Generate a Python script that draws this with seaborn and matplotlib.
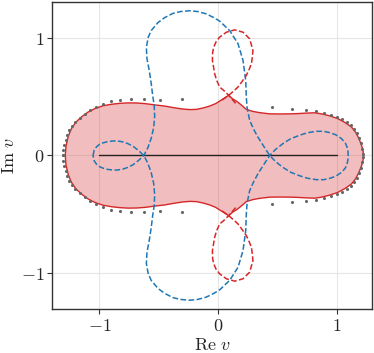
import numpy as np
import matplotlib
matplotlib.use("Agg")
import matplotlib.pyplot as plt
import seaborn as sns

# ---------------------------------------------------------------
# data (upper half only, the figure is
# symmetric under v -> conj(v))
# ---------------------------------------------------------------

# filled region: upper boundary, left to right
region_x = [-1.288, -1.282, -1.263, -1.236, -1.200, -1.152, -1.099, -1.040,
            -0.972, -0.899, -0.829, -0.759, -0.686, -0.618, -0.534, -0.449,
            -0.365, -0.298, -0.239, -0.180, -0.121, -0.070, -0.019, 0.031,
            0.090, 0.124, 0.158, 0.196, 0.239, 0.293, 0.352, 0.436, 0.520,
            0.605, 0.672, 0.739, 0.815, 0.874, 0.942, 1.010, 1.069, 1.125,
            1.161, 1.191, 1.212, 1.224, 1.227]
region_y = [0.0, 0.079, 0.163, 0.228, 0.281, 0.326, 0.366, 0.397,
            0.421, 0.434, 0.442, 0.446, 0.445, 0.440, 0.429, 0.419,
            0.404, 0.394, 0.389, 0.391, 0.404, 0.419, 0.440, 0.472,
            0.510, 0.480, 0.459, 0.429, 0.391, 0.374, 0.363, 0.353, 0.352,
            0.353, 0.355, 0.359, 0.362, 0.353, 0.336, 0.313, 0.281, 0.242,
            0.197, 0.138, 0.083, 0.036, 0.0]

# grey sample points (upper half)
dots_x = [-1.307, -1.304, -1.297, -1.286, -1.270, -1.253, -1.232, -1.202,
          -1.166, -1.124, -1.079, -1.025, -0.970, -0.899, -0.823, -0.730,
          -0.624, -0.486, -0.300,
          0.459, 0.627, 0.739, 0.826, 0.897, 0.956, 1.005, 1.049, 1.085,
          1.121, 1.148, 1.171, 1.191, 1.207, 1.218, 1.223]
dots_y = [0.0, 0.045, 0.091, 0.134, 0.174, 0.214, 0.250, 0.286,
          0.321, 0.353, 0.383, 0.413, 0.440, 0.459, 0.472, 0.478,
          0.478, 0.473, 0.480,
          0.411, 0.391, 0.389, 0.374, 0.360, 0.345, 0.328, 0.307, 0.286,
          0.258, 0.224, 0.189, 0.148, 0.106, 0.059, 0.015]

# blue contour, pieces of the upper half
blue_loop_x = [-1.054, -1.044, -1.025, -0.997, -0.970, -0.930, -0.885, -0.846,
               -0.801, -0.761, -0.717, -0.669, -0.626]
blue_loop_y = [0.0, 0.045, 0.073, 0.096, 0.107, 0.118, 0.123, 0.123,
               0.115, 0.101, 0.079, 0.041, 0.0]

blue_arc_x = [-0.626, -0.593, -0.563, -0.542, -0.534, -0.538, -0.551, -0.563,
              -0.580, -0.599, -0.604, -0.589, -0.563, -0.506, -0.449, -0.379,
              -0.315, -0.239, -0.171, -0.098, -0.036, 0.014, 0.099, 0.169,
              0.211, 0.234, 0.239, 0.245, 0.267, 0.301, 0.337, 0.385, 0.436]
blue_arc_y = [0.0, 0.062, 0.146, 0.239, 0.332, 0.425, 0.510, 0.611,
              0.721, 0.822, 0.915, 1.000, 1.059, 1.127, 1.169, 1.205,
              1.220, 1.227, 1.220, 1.200, 1.169, 1.139, 1.058, 0.947,
              0.806, 0.637, 0.495, 0.408, 0.298, 0.222, 0.155, 0.079, 0.0]

blue_lobe_x = [0.436, 0.487, 0.548, 0.613, 0.689, 0.756, 0.830, 0.891,
               0.942, 0.992, 1.040, 1.073, 1.088, 1.096, 1.098]
blue_lobe_y = [0.0, 0.053, 0.101, 0.142, 0.172, 0.193, 0.205, 0.205,
               0.194, 0.176, 0.144, 0.108, 0.073, 0.036, 0.0]

# red dashed teardrop above the cusp
red_loop_x = [0.149, 0.090, 0.048, 0.014, -0.011, -0.028, -0.047, -0.045,
              -0.036, -0.015, 0.014, 0.071, 0.141, 0.211, 0.267, 0.295,
              0.288, 0.282, 0.263, 0.239, 0.204, 0.169, 0.124, 0.090, 0.031]
red_loop_y = [0.442, 0.510, 0.552, 0.580, 0.637, 0.693, 0.806, 0.873,
              0.918, 0.966, 1.003, 1.045, 1.065, 1.045, 0.989, 0.890,
              0.822, 0.778, 0.730, 0.679, 0.628, 0.580, 0.539, 0.510, 0.467]

cut_x = [-1.0, 1.0]
cut_y = [0.0, 0.0]

# ---------------------------------------------------------------
sns.set_theme(style="whitegrid")
plt.rcParams["font.family"] = ["DejaVu Serif"]
plt.rcParams["mathtext.fontset"] = "cm"

RED = "#d62728"
BLUE = "#1f77b4"

fig = plt.figure(figsize=(3.74, 3.53), dpi=100)
ax = fig.add_axes([0.139, 0.125, 0.856, 0.869])

# region (upper boundary + mirrored lower boundary)
rx = np.array(region_x)
ry = np.array(region_y)
fx = np.concatenate([rx, rx[::-1]])
fy = np.concatenate([ry, -ry[::-1]])
ax.fill(fx, fy, color=RED, alpha=0.3, lw=0, zorder=2)
ax.plot(fx, fy, color=RED, lw=1.0, zorder=3)

# black cut
sns.lineplot(x=cut_x, y=cut_y, ax=ax, color="#222222", lw=1.0, zorder=4)

# blue dashed contour: half path, then its conjugate backwards
hx = np.concatenate([blue_loop_x, blue_arc_x, blue_lobe_x])
hy = np.concatenate([blue_loop_y, -np.array(blue_arc_y), blue_lobe_y])
bx = np.concatenate([hx, hx[::-1]])
by = np.concatenate([hy, -hy[::-1]])
sns.lineplot(x=bx, y=by, ax=ax, sort=False, estimator=None, color=BLUE,
             lw=1.1, linestyle="--", zorder=5)

# red dashed loops
lx = np.array(red_loop_x)
ly = np.array(red_loop_y)
for sgn in (1, -1):
    sns.lineplot(x=lx, y=sgn * ly, ax=ax, sort=False, estimator=None,
                 color=RED, lw=1.1, linestyle="--", zorder=5)

# grey points
dx = np.concatenate([dots_x, dots_x])
dy = np.concatenate([dots_y, -np.array(dots_y)])
sns.scatterplot(x=dx, y=dy, ax=ax, color="#666666", s=5, linewidth=0,
                zorder=6)

ax.set_xlim(-1.4, 1.3)
ax.set_ylim(-1.3, 1.3)
ax.set_xticks([-1, 0, 1], labels=[r"$-1$", r"$0$", r"$1$"])
ax.set_yticks([-1, 0, 1], labels=[r"$-1$", r"$0$", r"$1$"])
ax.tick_params(labelsize=13, length=3.5, width=0.8, direction="out",
               color="#333333", left=True, bottom=True, pad=2)
ax.set_xlabel(r"$\mathrm{Re}\ v$", fontsize=13, labelpad=1)
ax.set_ylabel(r"$\mathrm{Im}\ v$", fontsize=13, labelpad=2)
ax.grid(True, color="#e6e6e6", lw=0.8)
ax.set_axisbelow(True)
for sp in ax.spines.values():
    sp.set_color("#333333")
    sp.set_linewidth(1.0)
ax.set_facecolor("white")

fig.savefig("out.png", dpi=100)
